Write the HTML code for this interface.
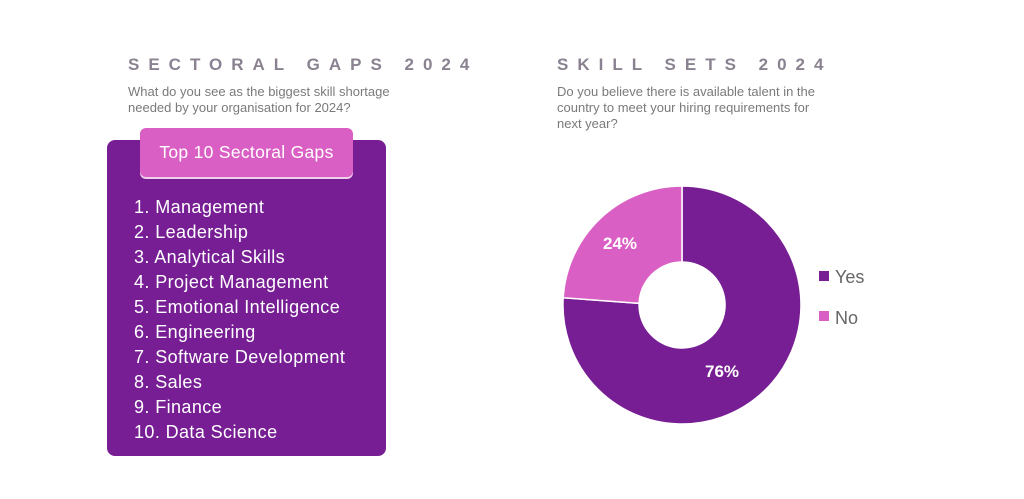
<!DOCTYPE html>
<html><head><meta charset="utf-8"><style>
body{margin:0;width:1024px;height:499px;background:#fff;font-family:"Liberation Sans",sans-serif;position:relative;overflow:hidden}
.t{position:absolute;color:#8a8290;font-size:17px;letter-spacing:9px;font-weight:bold}
.q{position:absolute;color:#7a7a7a;font-size:13px;line-height:16px}
.box{position:absolute;left:107px;top:140px;width:279px;height:316px;background:#771e94;border-radius:8px}
.tab{position:absolute;left:140px;top:128px;width:213px;height:49px;background:#da5fc4;border-radius:6px;box-shadow:0 2px 0 #f0d0ea;color:#fff;font-size:17.5px;line-height:49px;text-align:center;letter-spacing:0.3px}
ol{position:absolute;left:134px;top:195px;margin:0;padding:0;list-style:none;color:#fff;font-size:18px;line-height:25px;letter-spacing:0.4px}
</style></head><body>
<div class="t" style="left:128px;top:55px">SECTORAL GAPS 2024</div>
<div class="q" style="left:128px;top:84px">What do you see as the biggest skill shortage<br>needed by your organisation for 2024?</div>
<div class="t" style="left:557px;top:55px">SKILL SETS 2024</div>
<div class="q" style="left:557px;top:84px">Do you believe there is available talent in the<br>country to meet your hiring requirements for<br>next year?</div>
<div class="box"></div>
<div class="tab">Top 10 Sectoral Gaps</div>
<ol><li>1. Management</li><li>2. Leadership</li><li>3. Analytical Skills</li><li>4. Project Management</li><li>5. Emotional Intelligence</li><li>6. Engineering</li><li>7. Software Development</li><li>8. Sales</li><li>9. Finance</li><li>10. Data Science</li></ol>
<svg style="position:absolute;left:0;top:0" width="1024" height="499">
<path d="M682,186 A119,119 0 1 1 563.2,297.7 L639.1,303.3 A43,43 0 1 0 682,262 Z" fill="#771e94" stroke="#fff" stroke-width="1.5"/>
<path d="M682,186 A119,119 0 0 0 563.2,297.7 L639.1,303.3 A43,43 0 0 1 682,262 Z" fill="#da5fc4" stroke="#fff" stroke-width="1.5"/>
<text x="603" y="249" fill="#fff" font-size="17" font-weight="bold" font-family="Liberation Sans">24%</text>
<text x="705" y="377" fill="#fff" font-size="17" font-weight="bold" font-family="Liberation Sans">76%</text>
<rect x="819" y="271" width="10" height="10" fill="#771e94"/>
<text x="835" y="283" fill="#666" font-size="18" font-family="Liberation Sans">Yes</text>
<rect x="819" y="311" width="10" height="10" fill="#da5fc4"/>
<text x="835" y="324" fill="#666" font-size="18" font-family="Liberation Sans">No</text>
</svg>
</body></html>
